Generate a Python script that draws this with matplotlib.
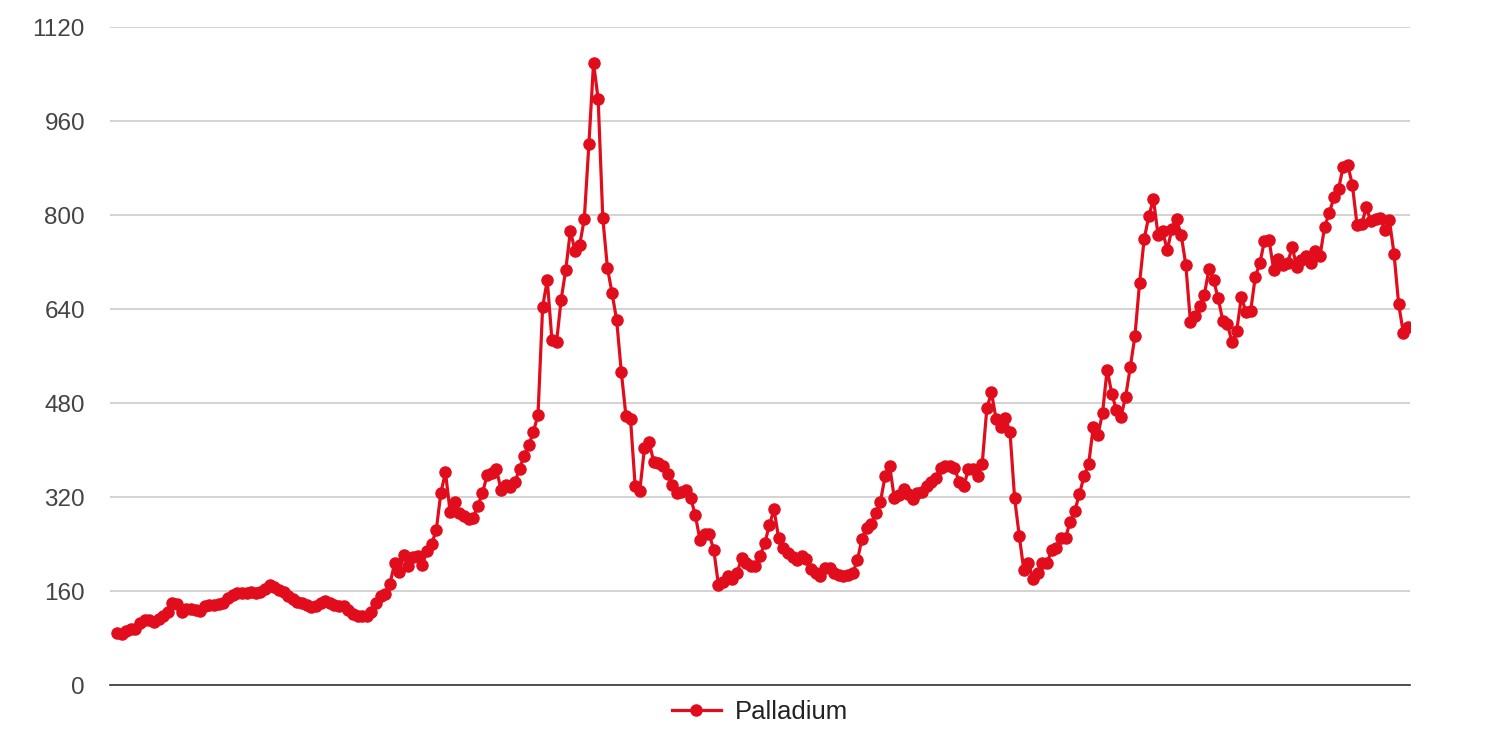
import matplotlib
matplotlib.use('Agg')
import numpy as np
import matplotlib.pyplot as plt

# palladium price, monthly points
palladium = [
    88, 87, 92, 95, 96, 106, 110, 111, 107, 113, 118, 125, 140, 138, 124, 130, 130, 127, 126, 134,
    136, 137, 138, 140, 148, 153, 156, 157, 157, 158, 157, 159, 163, 170, 166, 162, 158, 152, 147, 142,
    139, 136, 133, 134, 140, 143, 140, 136, 135, 135, 128, 121, 117, 117, 118, 125, 140, 152, 155, 172,
    207, 193, 222, 202, 218, 220, 204, 228, 240, 263, 327, 362, 295, 311, 293, 288, 283, 285, 305, 327,
    357, 361, 368, 332, 340, 337, 345, 368, 390, 408, 431, 460, 644, 689, 588, 583, 656, 707, 773, 739,
    749, 793, 921, 1059, 997, 795, 710, 667, 621, 533, 458, 452, 338, 331, 403, 414, 380, 378, 373, 360,
    340, 326, 329, 332, 318, 289, 247, 257, 257, 229, 170, 175, 185, 180, 190, 216, 208, 203, 203, 220,
    241, 272, 299, 250, 233, 225, 218, 213, 220, 215, 197, 190, 186, 200, 200, 190, 187, 185, 187, 190,
    212, 248, 267, 274, 292, 312, 355, 373, 318, 323, 333, 325, 316, 326, 329, 338, 345, 352, 370, 372,
    372, 370, 346, 338, 367, 367, 355, 377, 471, 498, 452, 440, 454, 431, 318, 254, 195, 208, 180, 191,
    208, 207, 230, 233, 250, 250, 278, 296, 325, 355, 376, 439, 425, 463, 537, 496, 468, 457, 491, 541,
    594, 684, 759, 798, 827, 766, 772, 740, 777, 793, 766, 715, 618, 628, 645, 664, 708, 689, 658, 620,
    614, 583, 603, 660, 635, 636, 694, 718, 756, 757, 706, 725, 715, 719, 745, 711, 723, 730, 719, 739,
    730, 780, 803, 830, 844, 882, 885, 851, 783, 784, 813, 789, 794, 795, 774, 791, 734, 648, 600, 610,
]
yticks = [0, 160, 320, 480, 640, 800, 960, 1120]

red = '#e20d1c'

fig = plt.figure(figsize=(14.96, 7.4), dpi=100)
ax = fig.add_axes([110/1496, 1 - 685/740, 1300/1496, 658/740])

x = np.arange(len(palladium))
ax.plot(x, palladium, color=red, lw=2.3, marker='o', markersize=8,
        label='Palladium', zorder=3)

ax.set_ylim(0, 1120)
ax.set_xlim(-1.5, len(palladium) - 1 + 0.45)
ax.set_yticks(yticks)
ax.set_yticklabels([str(v) for v in yticks], fontsize=17.5, color='#444444',
                   family='Liberation Sans')
ax.set_xticks([])
ax.tick_params(axis='y', length=0, pad=18)

ax.grid(axis='y', color='#cccccc', lw=1.2, zorder=0)
for s in ['top', 'right', 'left']:
    ax.spines[s].set_visible(False)
ax.spines['bottom'].set_color('#333333')
ax.spines['bottom'].set_linewidth(1.2)
ax.spines['bottom'].set_zorder(4)

leg = ax.legend(loc='upper center', bbox_to_anchor=(0.5, 0.0), frameon=False,
                prop={'family': 'Liberation Sans', 'size': 18.5}, handlelength=1.9,
                handletextpad=0.55, borderaxespad=0.2)
for t in leg.get_texts():
    t.set_color('#222222')

fig.savefig('out.png', dpi=100)
